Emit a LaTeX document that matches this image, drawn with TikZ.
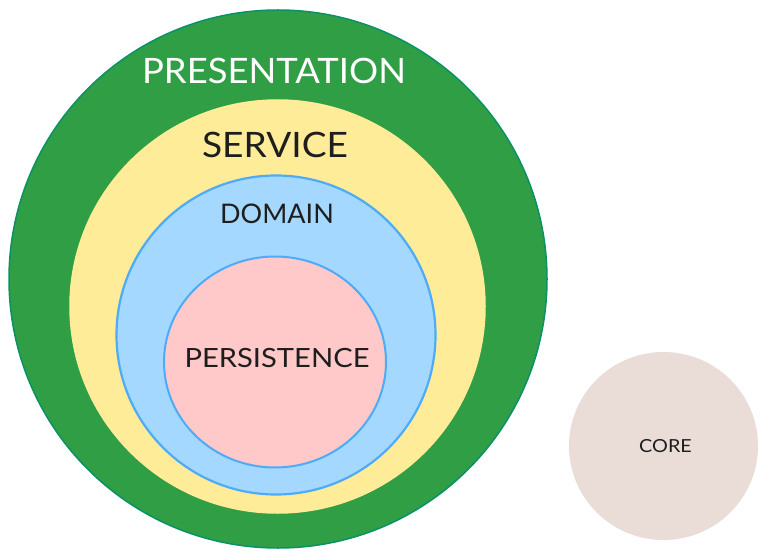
\documentclass[tikz,border=0pt]{standalone}
\usepackage{fontspec}
\setmainfont{Lato}
\definecolor{gfill}{HTML}{2F9E44}
\definecolor{gline}{HTML}{099268}
\definecolor{yfill}{HTML}{FFEC99}
\definecolor{bfill}{HTML}{A5D8FF}
\definecolor{bline}{HTML}{4DABF7}
\definecolor{pfill}{HTML}{FFC9C9}
\definecolor{cfill}{HTML}{EADDD7}
\definecolor{ink}{HTML}{1E1E1E}
\tikzset{
  layer/.style={line width=1.5pt},
  lbl/.style={inner sep=0pt, anchor=center}
}
\begin{document}
\begin{tikzpicture}[x=1pt,y=-1pt]
\useasboundingbox (0,0) rectangle (766,559);
\fill[white] (0,0) rectangle (766,559);
\draw[layer, fill=gfill, draw=gline] (278,279) ellipse [x radius=269, y radius=269];
\draw[layer, fill=yfill, draw=yfill] (277.5,306.5) ellipse [x radius=207.5, y radius=206.5];
\draw[layer, line width=2.2pt, fill=bfill, draw=bline] (276,335) ellipse [x radius=159.5, y radius=159.5];
\draw[layer, line width=2pt, fill=pfill, draw=bline] (275,362) ellipse [x radius=111, y radius=105.5];
\fill[cfill] (663.5,446) ellipse [x radius=94.5, y radius=94];
\node[lbl, text=white, font=\fontsize{35}{35}\selectfont, xscale=1.04] (pres) at (274,71) {PRESENTATION};
\node[lbl, text=ink, font=\fontsize{35}{35}\selectfont, xscale=1.06] (serv) at (275,145) {SERVICE};
\node[lbl, text=ink, font=\fontsize{27}{27}\selectfont] (dom) at (277,214) {DOMAIN};
\node[lbl, text=ink, font=\fontsize{26.5}{26.5}\selectfont, xscale=1.1] (pers) at (277,358) {PERSISTENCE};
\node[lbl, text=ink, font=\fontsize{18}{18}\selectfont, xscale=1.1] (core) at (665.5,446) {CORE};
\end{tikzpicture}
\end{document}
